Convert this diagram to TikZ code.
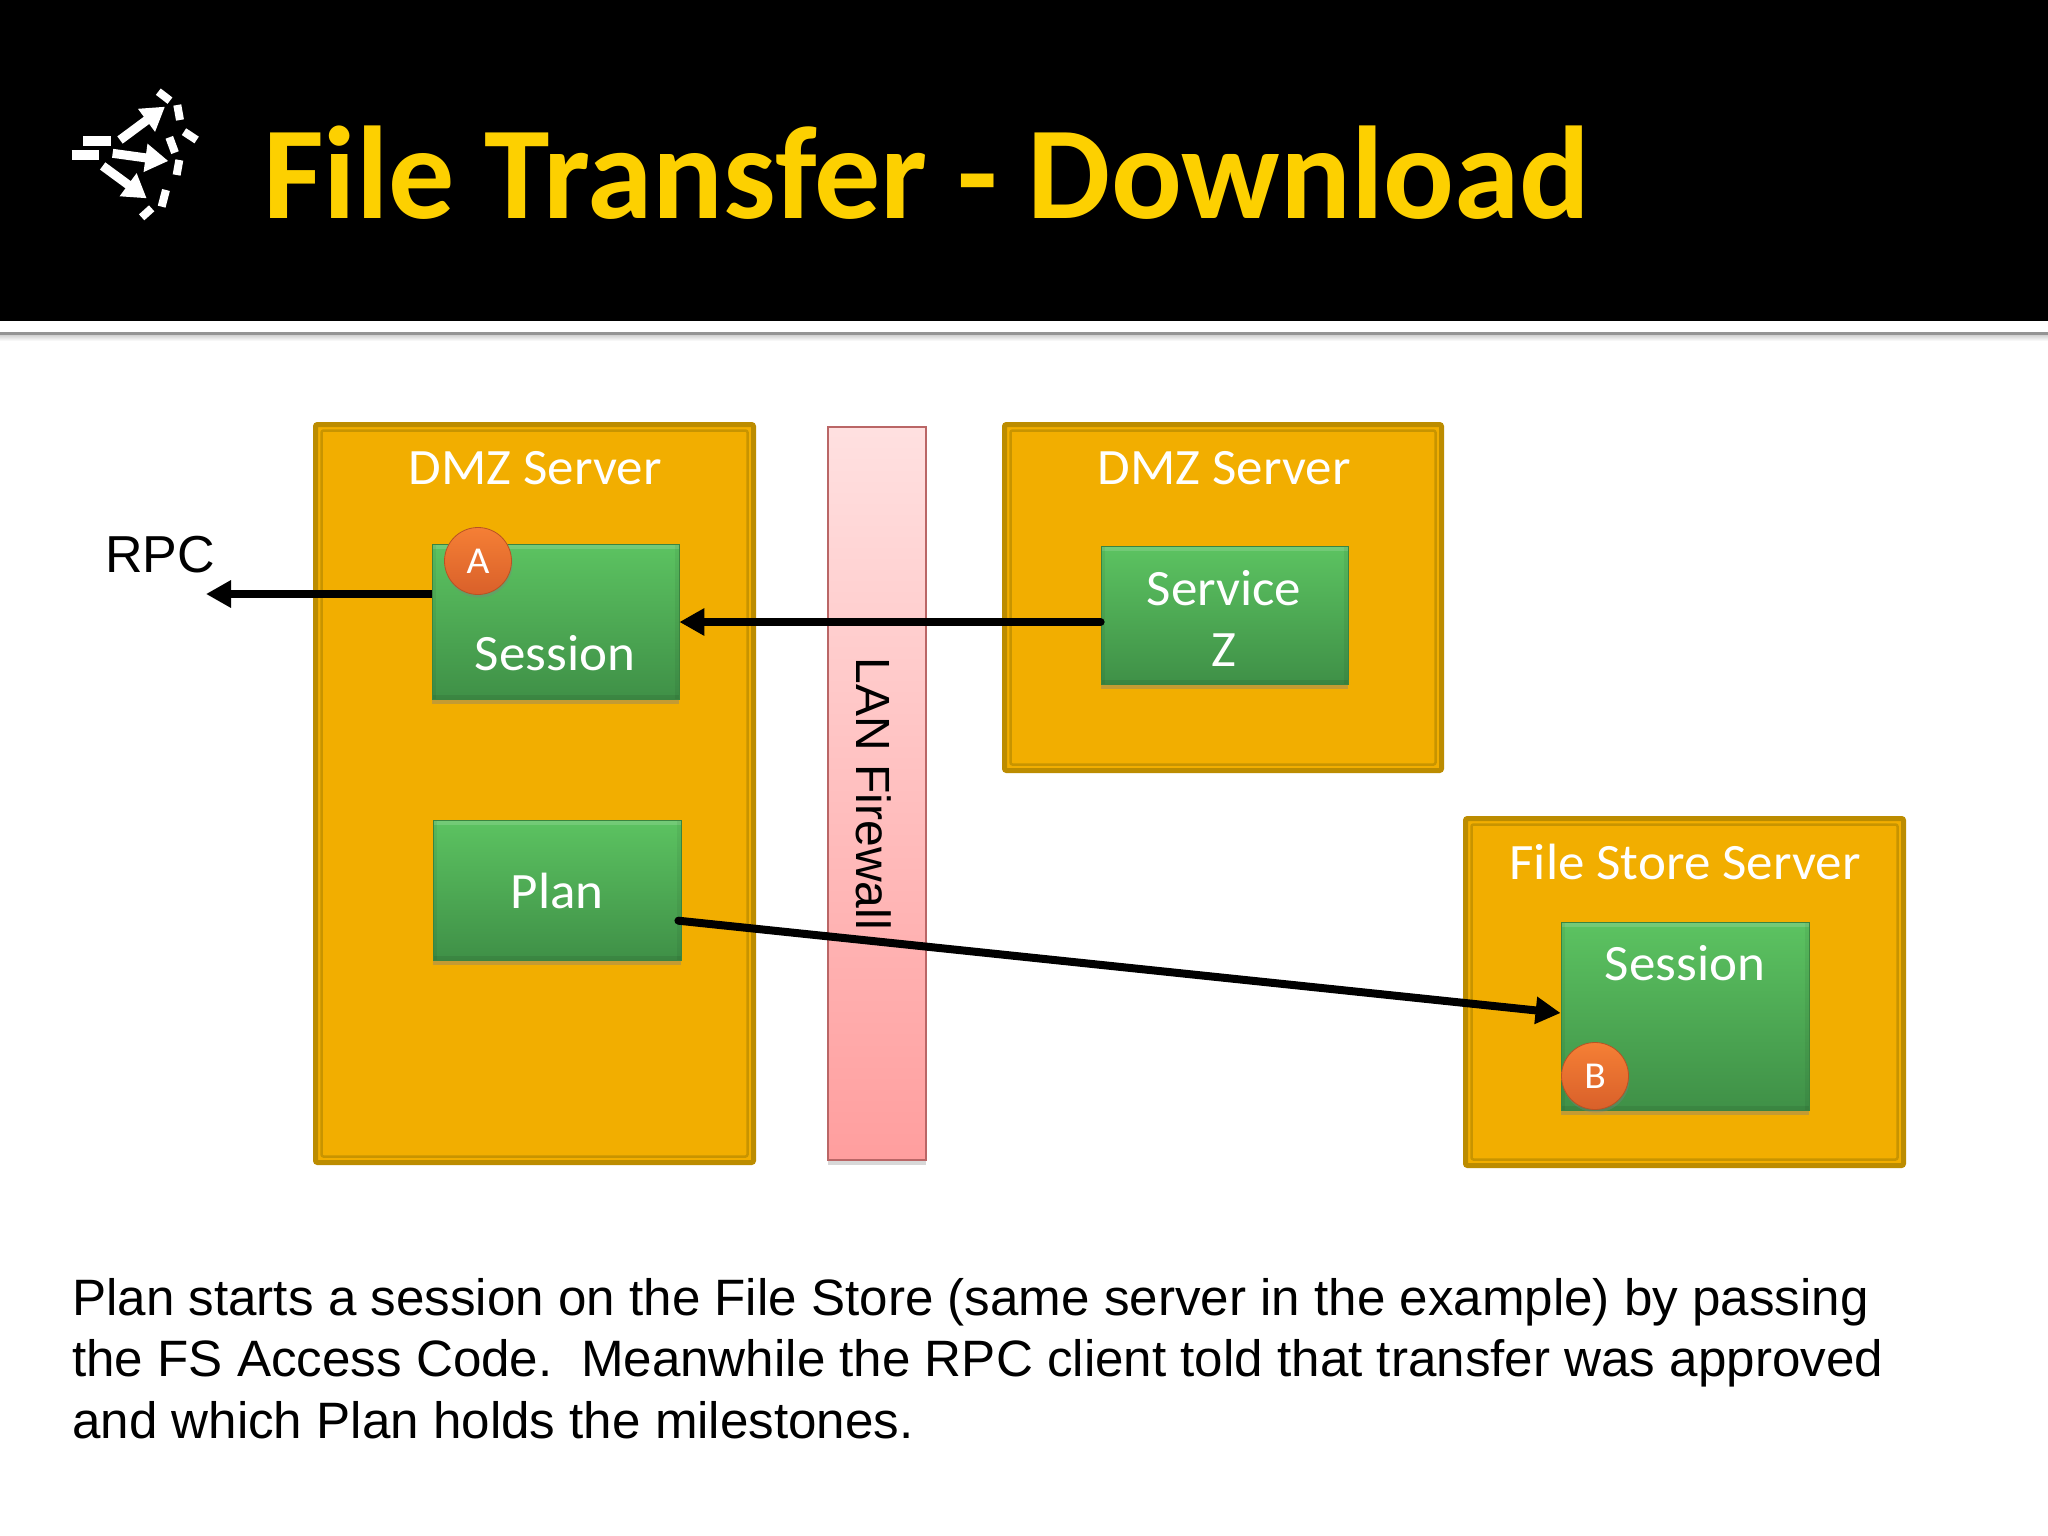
\documentclass[tikz,border=0pt]{standalone}
\usepackage{fontspec}
\setmainfont{Liberation Sans}
\newfontfamily\cali[FakeStretch=1.04]{Carlito}
\newfontfamily\calititle{Carlito}
\usetikzlibrary{arrows.meta,shadows}
\definecolor{hdrgold}{HTML}{FDD000}
\definecolor{srvfill}{HTML}{F2AE00}
\definecolor{srvedge}{HTML}{BC8C00}
\definecolor{srvinner}{HTML}{C89400}
\definecolor{grtop}{HTML}{5CC361}
\definecolor{grbot}{HTML}{3F9047}
\definecolor{grdark}{HTML}{3A8440}
\definecolor{orgtop}{HTML}{F57F35}
\definecolor{orgbot}{HTML}{D9602A}
\tikzset{
  server/.style={rectangle,draw=srvedge,line width=5pt,fill=srvfill,rounded corners=2pt,inner sep=0pt,
    path picture={\draw[srvinner,line width=2.5pt] ([shift={(6pt,-6pt)}]path picture bounding box.north west) rectangle ([shift={(-6pt,6pt)}]path picture bounding box.south east);}},
  greenbox/.style={rectangle,draw=grdark,line width=.8pt,top color=grtop,bottom color=grbot,inner sep=0pt,
    drop shadow={shadow xshift=0pt,shadow yshift=-5pt,opacity=.4},
    path picture={
      \fill[white,opacity=.14] (path picture bounding box.north west) rectangle ([yshift=-5pt]path picture bounding box.north east);
      \fill[black,opacity=.07] (path picture bounding box.south west) rectangle ([yshift=4pt]path picture bounding box.south east);
      \fill[black,opacity=.05] (path picture bounding box.south west) rectangle ([xshift=4pt]path picture bounding box.north west);
      \fill[black,opacity=.05] (path picture bounding box.south east) rectangle ([xshift=-4pt]path picture bounding box.north east);}},
  badge/.style={circle,minimum size=67pt,inner sep=0pt,top color=orgtop,bottom color=orgbot,draw=orgbot!85!black,line width=.8pt,
    text=white,font=\cali\fontsize{38}{38}\selectfont,
    drop shadow={shadow xshift=1pt,shadow yshift=-3pt,opacity=.35}},
  boxtext/.style={text=white,font=\cali\fontsize{51}{51}\selectfont,anchor=base,inner sep=0pt},
  flow/.style={line width=8pt,-{Triangle[length=25pt,width=26pt]},line cap=round},
  iconbar/.style={line width=10pt,white},
  icondash/.style={line width=8pt,white},
  iconarrow/.style={line width=9pt,white,-{Triangle[length=23pt,width=27pt]}}
}
\begin{document}
\begin{tikzpicture}[x=1pt,y=-1pt]
\useasboundingbox (0,0) rectangle (2048,1536);
\fill[white] (0,0) rectangle (2048,1536);
% header
\fill[black] (0,0) rectangle (2048,321);
\fill[black!42] (0,332) rectangle (2048,335);
\shade[top color=black!18,bottom color=white] (0,335) rectangle (2048,341);
\node[anchor=base west,inner sep=0pt,text=hdrgold,font=\calititle\bfseries\fontsize{132}{132}\selectfont] (title) at (263,218) {File Transfer - Download};
% icon
\begin{scope}[shift={(40,60)},x=.3333pt,y=-.3333pt]
  \draw[iconbar] (130,244) -- (212,244);
  \draw[iconbar] (95,285) -- (177,285);
  \draw[iconarrow] (240,240) -- (375,140);
  \draw[iconarrow] (218,280) -- (385,303);
  \draw[iconarrow] (188,318) -- (320,415);
  \draw[icondash] (355,95) -- (390,122);
  \draw[icondash] (412,135) -- (420,180);
  \draw[icondash] (432,215) -- (470,240);
  \draw[icondash] (388,232) -- (405,278);
  \draw[icondash] (418,300) -- (410,345);
  \draw[icondash] (378,390) -- (365,440);
  \draw[icondash] (335,445) -- (305,472);
\end{scope}
% firewall
\node[rectangle,draw=red!55!black!60,line width=1.2pt,top color=red!12,bottom color=red!38,minimum width=98pt,minimum height=733pt,inner sep=0pt,
  drop shadow={shadow xshift=0pt,shadow yshift=-5pt,opacity=.3}] (fw) at (877,793.5) {};
\node[rotate=-90,anchor=base,inner sep=0pt,font=\fontsize{48}{48}\selectfont] (fwtext) at (856.5,794) {LAN Firewall};
% servers
\node[server,minimum width=438pt,minimum height=738pt] (dmza) at (534.5,793.5) {};
\node[server,minimum width=437pt,minimum height=346pt] (dmzb) at (1223,597.5) {};
\node[server,minimum width=438pt,minimum height=347pt] (fss) at (1684.5,992) {};
\node[boxtext] (dmzalab) at (535,484) {DMZ Server};
\node[boxtext] (dmzblab) at (1224,484) {DMZ Server};
\node[boxtext] (fsslab) at (1685,879) {File Store Server};
% boxes
\node[greenbox,minimum width=247pt,minimum height=155pt] (sessa) at (555.5,621.5) {};
\node[greenbox,minimum width=248pt,minimum height=140pt] (plan) at (557,890) {};
\node[greenbox,minimum width=247pt,minimum height=138pt] (svc) at (1224.5,615) {};
\node[greenbox,minimum width=248pt,minimum height=188pt] (sessb) at (1685,1016) {};
\node[boxtext] (sessalab) at (555,670) {Session};
\node[boxtext] (planlab) at (557,908) {Plan};
\node[boxtext] (svclaba) at (1224,605) {Service};
\node[boxtext] (svclabb) at (1224,666) {Z};
\node[boxtext] (sessblab) at (1685,980) {Session};
\node[badge] (a) at (478,561) {A};
\node[badge] (b) at (1595,1076) {B};
% connectors
\node[anchor=base,inner sep=0pt,font=\fontsize{52}{52}\selectfont] (rpc) at (160,572) {RPC};
\coordinate (rpcend) at (206,594);
\draw[flow,line cap=butt] (sessa.west |- 0,594) -- (rpcend);
\draw[flow] (svc.west |- 0,622) -- (sessa.east |- 0,622);
\draw[flow,shorten <=-3pt] (plan.east |- 0,921) -- (sessb.west |- 0,1013);
% body
\node[anchor=base west,align=left,inner sep=0pt,font=\fontsize{51.15}{61.5}\selectfont] (body) at (72,1438)
 {Plan starts a session on the File Store (same server in the example) by passing\\
  the FS Access Code.\ \ Meanwhile the RPC client told that transfer was approved\\
  and which Plan holds the milestones.};
\end{tikzpicture}
\end{document}
